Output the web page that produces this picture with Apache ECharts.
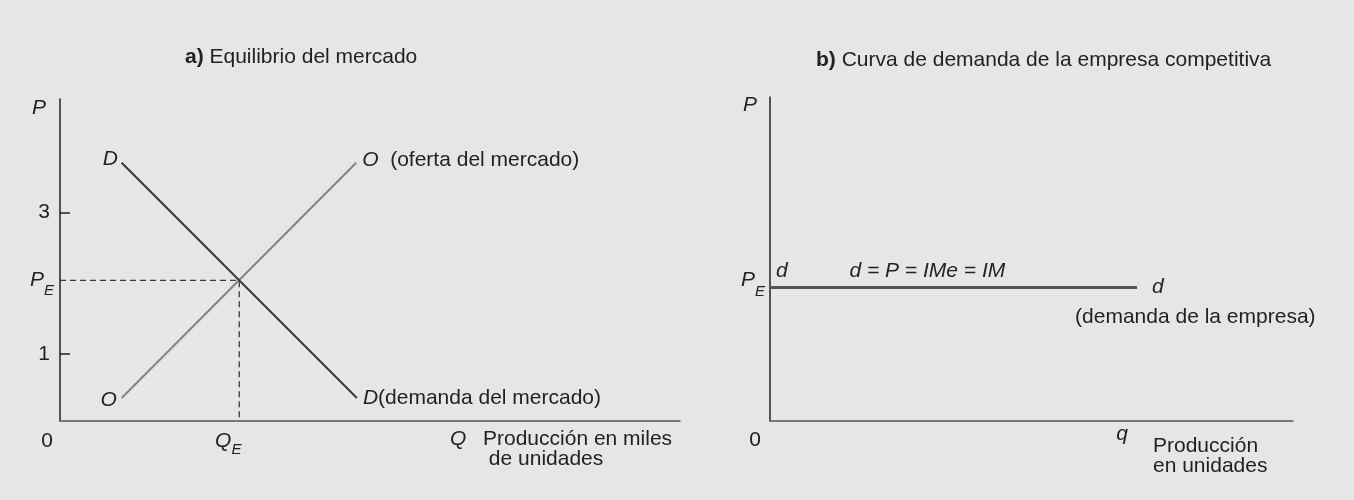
<!DOCTYPE html>
<html><head><meta charset="utf-8">
<script src="https://cdn.jsdelivr.net/npm/echarts@6/dist/echarts.min.js"></script>
<style>html,body{margin:0;padding:0;background:#e6e6e6}#c{width:1354px;height:500px}</style>
</head><body><div id="c"></div>
<script>
// ---------- Panel a) market equilibrium ----------
const demandQ = [0.87, 4.19];
const demandP = [3.70, 0.38];
const supplyQ = [0.87, 4.18];
const supplyP = [0.38, 3.70];
const equilibriumQ = 2.53;   // Q_E
const equilibriumP = 2.04;   // P_E
const priceTicks = [1, 3];
const marketXRange = [0, 8.75];
const marketYRange = [0.06, 4.6];
const marketQLabelAt = 5.62;

// ---------- Panel b) competitive firm demand ----------
const firmQ = [0, 5.18];
const firmP = [1.94, 1.94];
const firmXRange = [0, 7.38];
const firmYRange = [0.06, 4.63];
const firmQLabelAt = 4.97;
const formulaLabelAt = 2.22;

const FONT = 'Liberation Sans, Arial, Helvetica, sans-serif';
const TXT = '#222';
const base = {fontFamily: FONT, fontSize: 21, color: TXT, fontWeight: 'normal'};
const ital = Object.assign({}, base, {fontStyle: 'italic'});
const sub = Object.assign({}, ital, {fontSize: 15});
const S = (o, extra) => Object.assign({}, o, extra);

const pairs = (xs, ys) => xs.map((x, i) => [x, ys[i]]);

const chart = echarts.init(document.getElementById('c'), null, {renderer: 'canvas'});
const option = {
  animation: false,
  backgroundColor: '#e6e6e6',
  textStyle: {fontFamily: FONT},
  title: [
    {text: '{b|a)} {n|Equilibrio del mercado}', left: 185, top: 47, padding: 0,
     textStyle: S(base, {rich: {b: S(base, {fontWeight: 'bold'}), n: base}})},
    {text: '{b|b)} {n|Curva de demanda de la empresa competitiva}', left: 816, top: 50, padding: 0,
     textStyle: S(base, {rich: {b: S(base, {fontWeight: 'bold'}), n: base}})}
  ],
  grid: [
    {left: 60, top: 99, width: 620, height: 321.7},
    {left: 770, top: 97, width: 523, height: 323.7}
  ],
  xAxis: [
    {
      gridIndex: 0, type: 'value', min: marketXRange[0], max: marketXRange[1],
      name: 'Producción en miles\n de unidades', nameLocation: 'end', nameGap: -197,
      nameMoveOverlap: false,
      nameTextStyle: S(base, {align: 'left', verticalAlign: 'top', lineHeight: 20, padding: [8.3, 0, 0, 0]}),
      axisLine: {show: true, onZero: false, lineStyle: {color: '#555', width: 1.5}},
      axisTick: {show: false},
      splitLine: {show: false},
      axisLabel: {
        show: true, margin: 8,
        customValues: [marketXRange[0], equilibriumQ, marketQLabelAt],
        formatter: v => v === marketXRange[0] ? '{z|0}' : (v === equilibriumQ ? '{q|Q}{e|E}' : '{v|Q}'),
        rich: {
          z: S(base, {padding: [2.3, 26, 0, 0]}),
          q: S(ital, {padding: [2.3, 0, 5, 0]}),
          e: S(sub, {padding: [13.3, 22, 0, 0]}),
          v: ital
        }
      }
    },
    {
      gridIndex: 1, type: 'value', min: firmXRange[0], max: firmXRange[1],
      name: 'Producción\nen unidades', nameLocation: 'end', nameGap: -140,
      nameMoveOverlap: false,
      nameTextStyle: S(base, {align: 'left', verticalAlign: 'top', lineHeight: 20, padding: [15.3, 0, 0, 0]}),
      axisLine: {show: true, onZero: false, lineStyle: {color: '#555', width: 1.5}},
      axisTick: {show: false},
      splitLine: {show: false},
      axisLabel: {
        show: true, margin: 3,
        customValues: [firmXRange[0], firmQLabelAt],
        formatter: v => v === firmXRange[0] ? '{z|0}' : '{v|q}',
        rich: {z: S(base, {padding: [6.3, 30, 0, 0]}), v: ital}
      }
    }
  ],
  yAxis: [
    {
      gridIndex: 0, type: 'value', min: marketYRange[0], max: marketYRange[1],
      name: 'P', nameLocation: 'end', nameGap: -9.5, nameMoveOverlap: false,
      nameTextStyle: S(ital, {align: 'right', verticalAlign: 'middle', padding: [0, 14, 0, 0]}),
      axisLine: {show: true, onZero: false, lineStyle: {color: '#222', width: 1.5}},
      axisTick: {show: true, inside: true, length: 10, customValues: priceTicks,
                 lineStyle: {color: '#222', width: 1.5}},
      splitLine: {show: false},
      axisLabel: {
        show: true, margin: 6,
        customValues: priceTicks.concat([equilibriumP]),
        formatter: v => v === equilibriumP ? '{p|P}{e|E}' : '{n|' + v + '}',
        rich: {n: S(base, {padding: [0, 4, 0, 0]}), p: ital, e: S(sub, {padding: [20, 0, 0, 0]})}
      }
    },
    {
      gridIndex: 1, type: 'value', min: firmYRange[0], max: firmYRange[1],
      name: 'P', nameLocation: 'end', nameGap: -8.5, nameMoveOverlap: false,
      nameTextStyle: S(ital, {align: 'right', verticalAlign: 'middle', padding: [0, 13, 0, 0]}),
      axisLine: {show: true, onZero: false, lineStyle: {color: '#222', width: 1.5}},
      axisTick: {show: false},
      splitLine: {show: false},
      axisLabel: {
        show: true, margin: 5,
        customValues: [firmP[0]],
        formatter: () => '{p|P}{e|E}',
        rich: {p: S(ital, {padding: [0, 0, 14, 0]}), e: S(sub, {padding: [7.6, 0, 0, 0]})}
      }
    }
  ],
  series: [
    {
      type: 'line', xAxisIndex: 0, yAxisIndex: 0, silent: true, z: 3,
      symbol: 'circle', symbolSize: 0, showSymbol: true,
      lineStyle: {color: '#3a3a3a', width: 1.3, type: [6, 4]},
      itemStyle: {color: '#3a3a3a'},
      data: [[marketXRange[0], equilibriumP], [equilibriumQ, equilibriumP], [equilibriumQ, 0]]
    },
    {
      type: 'line', xAxisIndex: 0, yAxisIndex: 0, silent: true, z: 4,
      symbol: 'circle', symbolSize: 0, showSymbol: true,
      lineStyle: {color: '#848484', width: 2}, itemStyle: {color: '#848484'},
      data: pairs(supplyQ, supplyP).map((p, i) => i === 0 ? {
        value: p, label: S(ital, {show: true, position: 'left', distance: 4.7, offset: [0, 2], formatter: 'O'})
      } : p),
      endLabel: {show: true, distance: 6, offset: [0, -2.6], color: TXT,
                 formatter: '{i|O}  {n|(oferta del mercado)}', fontSize: 21, fontFamily: FONT,
                 rich: {i: ital, n: base}}
    },
    {
      type: 'line', xAxisIndex: 0, yAxisIndex: 0, silent: true, z: 5,
      symbol: 'circle', symbolSize: 0, showSymbol: true,
      lineStyle: {color: '#383838', width: 2}, itemStyle: {color: '#383838'},
      data: pairs(demandQ, demandP).map((p, i) => i === 0 ? {
        value: p, label: S(ital, {show: true, position: 'left', distance: 3.7, offset: [0, -3.3], formatter: 'D'})
      } : p),
      endLabel: {show: true, distance: 6, color: TXT,
                 formatter: '{i|D}{n|(demanda del mercado)}', fontSize: 21, fontFamily: FONT,
                 rich: {i: ital, n: base}}
    },
    {
      type: 'line', xAxisIndex: 1, yAxisIndex: 1, silent: true, z: 4,
      symbol: 'circle', symbolSize: 0, showSymbol: true,
      lineStyle: {color: '#555', width: 3}, itemStyle: {color: '#555'},
      data: pairs(firmQ, firmP).map((p, i) => i === 0 ? {
        value: p, label: S(ital, {show: true, position: [6, -26.7], formatter: 'd'})
      } : {
        value: p, label: S(base, {show: true, position: [-62, 18.8], formatter: '(demanda de la empresa)'})
      }),
      endLabel: {show: true, distance: 15, color: TXT, formatter: '{i|d}', rich: {i: ital}}
    },
    {
      type: 'scatter', xAxisIndex: 1, yAxisIndex: 1, silent: true, z: 6,
      symbolSize: 0, itemStyle: {color: TXT, opacity: 1},
      data: [{value: [formulaLabelAt, firmP[0]],
              label: S(ital, {show: true, position: 'top', distance: 5.7, formatter: 'd = P = IMe = IM'})}]
    }
  ]
};
chart.setOption(option);
</script>
</body></html>
